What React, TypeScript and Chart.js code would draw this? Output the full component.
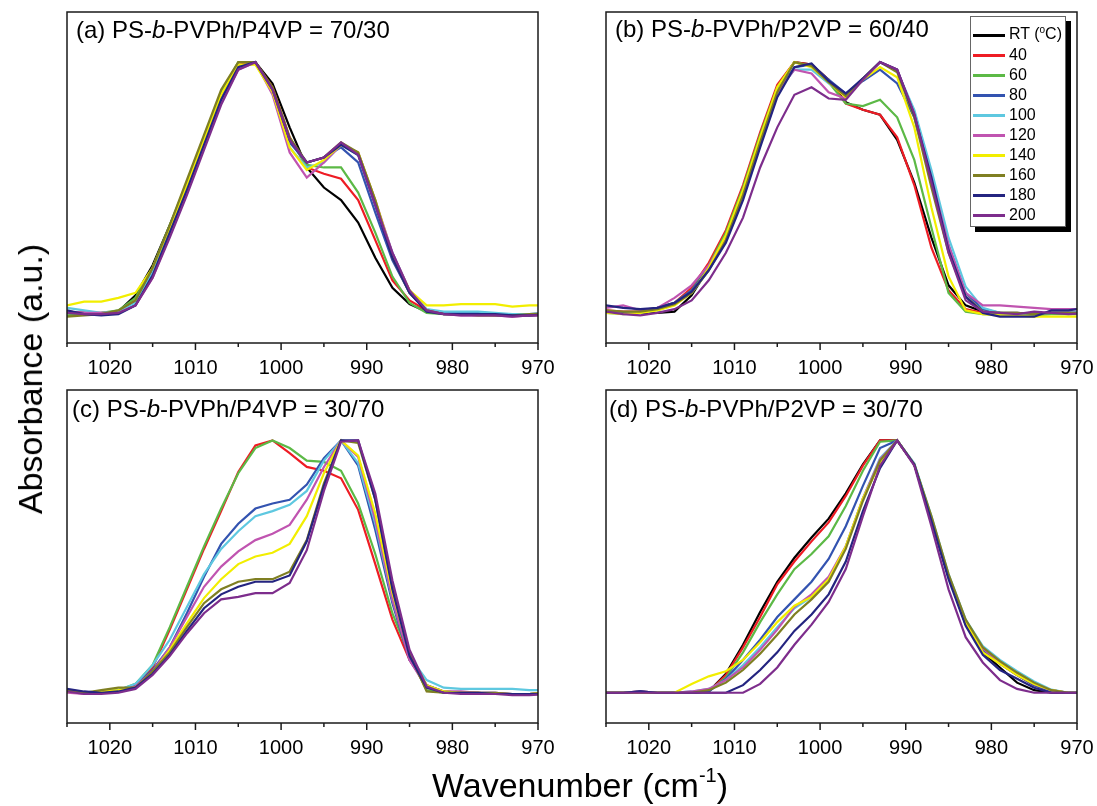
import React, { useEffect, useRef } from 'react';
import { Chart, registerables } from 'chart.js';

Chart.register(...registerables);

// ---------- data ----------
const WAVENUMBERS = [1025, 1023, 1021, 1019, 1017, 1015, 1013, 1011, 1009, 1007, 1005, 1003, 1001, 999, 997, 995, 993, 991, 989, 987, 985, 983, 981, 979, 977, 975, 973, 971, 969];
const SERIES_LABELS = ['RT', '40', '60', '80', '100', '120', '140', '160', '180', '200'];
const SERIES_COLORS = ['#000000', '#ee1c24', '#5cb946', '#3353b0', '#5ec8e0', '#c054b0', '#f2ee00', '#7f7f22', '#242480', '#7d2d8c'];
const X_MIN = 970;
const X_MAX = 1025;
const Y_MIN = -0.12;
const Y_MAX = 1.2;

// (a) PS-b-PVPh/P4VP = 70/30
const A_RT = [0.0, 0.0, -0.005, 0.005, 0.07, 0.19, 0.35, 0.51, 0.69, 0.87, 0.985, 1.0, 0.915, 0.74, 0.58, 0.5, 0.45, 0.36, 0.22, 0.1, 0.035, 0.005, 0.0, 0.0, 0.0, -0.005, -0.005, -0.005, 0.0];
const A_40 = [0.005, 0.0, 0.0, 0.005, 0.05, 0.17, 0.33, 0.5, 0.68, 0.86, 0.99, 1.0, 0.9, 0.7, 0.58, 0.555, 0.535, 0.45, 0.29, 0.13, 0.05, 0.01, 0.0, 0.0, 0.0, -0.005, -0.01, -0.01, -0.005];
const A_60 = [-0.01, -0.005, 0.0, 0.01, 0.06, 0.18, 0.35, 0.52, 0.7, 0.88, 1.0, 1.0, 0.89, 0.69, 0.59, 0.58, 0.58, 0.48, 0.32, 0.145, 0.04, 0.0, -0.005, -0.005, -0.005, -0.01, -0.01, -0.01, -0.005];
const A_80 = [0.0, 0.0, -0.005, 0.0, 0.04, 0.16, 0.32, 0.49, 0.67, 0.85, 0.98, 1.0, 0.89, 0.68, 0.6, 0.62, 0.66, 0.6, 0.4, 0.21, 0.08, 0.01, 0.0, 0.0, 0.0, -0.005, -0.01, -0.01, -0.005];
const A_100 = [0.02, 0.01, 0.0, 0.005, 0.04, 0.16, 0.32, 0.49, 0.67, 0.85, 0.98, 0.995, 0.88, 0.66, 0.58, 0.6, 0.67, 0.63, 0.44, 0.24, 0.09, 0.015, 0.005, 0.005, 0.005, 0.0, -0.005, -0.005, 0.0];
const A_120 = [0.005, 0.0, 0.0, 0.0, 0.03, 0.14, 0.31, 0.48, 0.66, 0.84, 0.97, 1.0, 0.87, 0.64, 0.54, 0.6, 0.67, 0.64, 0.45, 0.24, 0.09, 0.01, -0.005, -0.01, -0.01, -0.01, -0.015, -0.01, -0.01];
const A_140 = [0.03, 0.045, 0.045, 0.06, 0.08, 0.18, 0.34, 0.51, 0.69, 0.87, 0.99, 0.99, 0.88, 0.66, 0.57, 0.61, 0.67, 0.64, 0.45, 0.23, 0.09, 0.03, 0.03, 0.035, 0.035, 0.035, 0.025, 0.03, 0.03];
const A_160 = [-0.015, -0.01, -0.005, 0.01, 0.05, 0.18, 0.35, 0.53, 0.71, 0.89, 1.0, 1.0, 0.9, 0.7, 0.6, 0.62, 0.68, 0.64, 0.45, 0.22, 0.08, 0.01, -0.005, -0.005, -0.01, -0.01, -0.01, -0.005, -0.005];
const A_180 = [0.01, -0.005, -0.01, -0.005, 0.03, 0.15, 0.32, 0.49, 0.67, 0.85, 0.98, 1.0, 0.89, 0.69, 0.6, 0.62, 0.67, 0.63, 0.43, 0.22, 0.08, 0.005, -0.005, -0.005, -0.005, -0.005, -0.01, -0.01, -0.005];
const A_200 = [0.0, -0.005, -0.005, 0.0, 0.03, 0.14, 0.3, 0.47, 0.65, 0.83, 0.97, 1.0, 0.89, 0.69, 0.6, 0.62, 0.68, 0.63, 0.43, 0.24, 0.09, 0.01, -0.005, -0.01, -0.01, -0.01, -0.015, -0.01, -0.01];

// (b) PS-b-PVPh/P2VP = 60/40
const B_RT = [0.0, 0.0, 0.0, 0.0, 0.005, 0.07, 0.18, 0.31, 0.49, 0.7, 0.9, 1.0, 0.99, 0.93, 0.84, 0.81, 0.79, 0.69, 0.52, 0.3, 0.11, 0.03, 0.005, 0.0, 0.0, -0.005, 0.0, 0.0, 0.0];
const B_40 = [0.01, 0.005, 0.005, 0.015, 0.04, 0.1, 0.2, 0.33, 0.51, 0.72, 0.91, 1.0, 0.99, 0.93, 0.835, 0.81, 0.79, 0.7, 0.51, 0.26, 0.09, 0.015, 0.0, -0.005, -0.005, -0.005, 0.0, 0.0, 0.0];
const B_60 = [0.005, 0.0, 0.005, 0.02, 0.04, 0.09, 0.19, 0.32, 0.5, 0.71, 0.9, 1.0, 0.985, 0.92, 0.835, 0.825, 0.85, 0.78, 0.61, 0.34, 0.08, 0.005, -0.005, -0.005, -0.01, -0.01, -0.005, -0.005, -0.005];
const B_80 = [0.005, 0.0, 0.005, 0.02, 0.04, 0.09, 0.18, 0.3, 0.47, 0.68, 0.88, 0.98, 0.99, 0.93, 0.875, 0.925, 0.97, 0.915, 0.78, 0.53, 0.27, 0.08, 0.015, 0.0, -0.005, -0.005, 0.0, 0.0, 0.005];
const B_100 = [0.0, -0.005, 0.0, 0.01, 0.035, 0.08, 0.17, 0.29, 0.47, 0.68, 0.88, 0.97, 0.97, 0.915, 0.87, 0.935, 1.0, 0.965, 0.81, 0.57, 0.3, 0.105, 0.02, 0.0, -0.005, -0.005, 0.0, 0.0, 0.005];
const B_120 = [0.02, 0.03, 0.01, 0.02, 0.06, 0.11, 0.19, 0.3, 0.47, 0.68, 0.88, 0.97, 0.955, 0.88, 0.855, 0.935, 1.0, 0.97, 0.79, 0.54, 0.27, 0.08, 0.03, 0.03, 0.025, 0.02, 0.015, 0.015, 0.015];
const B_140 = [0.0, -0.005, 0.0, 0.01, 0.03, 0.08, 0.18, 0.31, 0.49, 0.7, 0.9, 1.0, 0.98, 0.92, 0.86, 0.93, 0.98, 0.94, 0.74, 0.42, 0.145, 0.01, -0.005, -0.01, -0.01, -0.015, -0.015, -0.015, -0.015];
const B_160 = [0.01, 0.005, 0.005, 0.015, 0.035, 0.08, 0.17, 0.29, 0.47, 0.68, 0.88, 1.0, 0.985, 0.92, 0.865, 0.935, 1.0, 0.96, 0.78, 0.5, 0.24, 0.065, 0.005, 0.0, 0.0, -0.005, 0.0, 0.0, 0.0];
const B_180 = [0.03, 0.02, 0.015, 0.02, 0.04, 0.085, 0.17, 0.28, 0.45, 0.66, 0.86, 0.98, 0.995, 0.925, 0.875, 0.935, 1.0, 0.97, 0.79, 0.54, 0.25, 0.065, 0.0, -0.015, -0.015, -0.015, 0.01, 0.01, 0.02];
const B_200 = [0.005, -0.005, -0.01, 0.0, 0.015, 0.05, 0.13, 0.24, 0.38, 0.58, 0.74, 0.87, 0.9, 0.855, 0.85, 0.93, 1.0, 0.97, 0.795, 0.52, 0.24, 0.05, 0.005, 0.0, -0.005, 0.005, 0.0, -0.005, 0.0];

// (c) PS-b-PVPh/P4VP = 30/70  (RT trace not shown)
const C_RT: number[] = [];
const C_40 = [0.005, 0.0, 0.0, 0.005, 0.03, 0.1, 0.25, 0.41, 0.57, 0.72, 0.875, 0.98, 1.0, 0.95, 0.895, 0.88, 0.85, 0.725, 0.51, 0.29, 0.13, 0.03, 0.005, 0.0, 0.0, -0.005, -0.005, -0.005, 0.0];
const C_60 = [0.005, 0.0, 0.005, 0.01, 0.035, 0.11, 0.26, 0.42, 0.58, 0.73, 0.87, 0.97, 1.0, 0.97, 0.92, 0.915, 0.88, 0.75, 0.55, 0.315, 0.145, 0.01, 0.0, 0.0, -0.005, -0.005, -0.005, -0.005, 0.0];
const C_80 = [0.01, 0.0, 0.0, 0.005, 0.03, 0.09, 0.18, 0.315, 0.46, 0.59, 0.67, 0.73, 0.75, 0.765, 0.825, 0.93, 1.0, 0.9, 0.645, 0.355, 0.13, 0.03, 0.005, 0.0, 0.0, 0.0, -0.005, -0.005, 0.0];
const C_100 = [0.005, 0.0, 0.0, 0.01, 0.035, 0.11, 0.21, 0.34, 0.47, 0.57, 0.64, 0.7, 0.72, 0.745, 0.8, 0.92, 1.0, 0.91, 0.67, 0.37, 0.145, 0.05, 0.02, 0.015, 0.015, 0.015, 0.015, 0.01, 0.01];
const C_120 = [0.0, -0.005, 0.0, 0.005, 0.025, 0.085, 0.18, 0.3, 0.42, 0.5, 0.56, 0.605, 0.63, 0.665, 0.765, 0.895, 1.0, 0.935, 0.685, 0.37, 0.13, 0.02, 0.005, 0.005, 0.0, 0.0, -0.005, -0.005, 0.0];
const C_140 = [0.005, 0.0, 0.005, 0.01, 0.02, 0.08, 0.17, 0.275, 0.375, 0.45, 0.51, 0.54, 0.555, 0.59, 0.7, 0.87, 1.0, 0.94, 0.71, 0.395, 0.155, 0.03, 0.005, 0.0, 0.0, -0.005, -0.005, -0.005, 0.0];
const C_160 = [0.01, 0.0, 0.01, 0.02, 0.02, 0.085, 0.16, 0.26, 0.355, 0.41, 0.44, 0.45, 0.45, 0.48, 0.605, 0.83, 1.0, 0.99, 0.765, 0.42, 0.155, 0.005, 0.0, 0.0, 0.0, 0.0, -0.005, -0.005, 0.0];
const C_180 = [0.015, 0.005, 0.0, 0.005, 0.02, 0.075, 0.15, 0.245, 0.335, 0.39, 0.42, 0.44, 0.44, 0.465, 0.6, 0.82, 1.0, 1.0, 0.765, 0.41, 0.145, 0.02, 0.0, 0.0, 0.0, -0.005, -0.005, -0.005, -0.005];
const C_200 = [0.005, -0.005, -0.005, 0.0, 0.015, 0.07, 0.145, 0.235, 0.315, 0.37, 0.38, 0.395, 0.395, 0.435, 0.565, 0.8, 0.995, 1.0, 0.79, 0.445, 0.17, 0.025, 0.0, -0.005, -0.005, -0.005, -0.01, -0.01, -0.005];

// (d) PS-b-PVPh/P2VP = 30/70
const D_RT = [0.0, 0.0, 0.0, 0.0, 0.0, 0.0, 0.005, 0.075, 0.19, 0.32, 0.44, 0.535, 0.615, 0.69, 0.79, 0.905, 1.0, 1.0, 0.905, 0.69, 0.46, 0.27, 0.16, 0.1, 0.04, 0.01, 0.0, 0.0, 0.0];
const D_40 = [0.0, 0.0, 0.005, 0.0, 0.0, 0.0, 0.005, 0.07, 0.18, 0.3, 0.43, 0.52, 0.6, 0.675, 0.78, 0.9, 1.0, 1.0, 0.905, 0.69, 0.46, 0.28, 0.175, 0.115, 0.07, 0.03, 0.005, 0.0, 0.0];
const D_60 = [0.0, 0.0, 0.0, 0.0, 0.0, 0.0, 0.005, 0.06, 0.16, 0.28, 0.39, 0.49, 0.55, 0.62, 0.74, 0.88, 0.995, 1.0, 0.905, 0.69, 0.46, 0.28, 0.175, 0.12, 0.075, 0.035, 0.01, 0.0, 0.0];
const D_80 = [0.0, 0.0, 0.005, 0.0, 0.0, 0.0, 0.005, 0.055, 0.13, 0.21, 0.3, 0.37, 0.44, 0.53, 0.66, 0.82, 0.97, 1.0, 0.905, 0.69, 0.46, 0.28, 0.17, 0.115, 0.07, 0.03, 0.005, 0.0, 0.0];
const D_100 = [0.0, 0.0, 0.0, 0.0, 0.0, 0.005, 0.015, 0.05, 0.11, 0.18, 0.26, 0.335, 0.38, 0.45, 0.58, 0.77, 0.93, 1.0, 0.91, 0.7, 0.47, 0.29, 0.185, 0.13, 0.085, 0.045, 0.012, 0.0, 0.0];
const D_120 = [0.0, 0.0, 0.0, 0.0, 0.0, 0.005, 0.015, 0.05, 0.1, 0.17, 0.25, 0.34, 0.39, 0.46, 0.58, 0.77, 0.925, 1.0, 0.905, 0.69, 0.46, 0.28, 0.175, 0.12, 0.075, 0.035, 0.01, 0.0, 0.0];
const D_140 = [0.0, 0.0, 0.0, 0.0, 0.0, 0.035, 0.065, 0.085, 0.13, 0.2, 0.28, 0.345, 0.38, 0.45, 0.58, 0.77, 0.91, 1.0, 0.905, 0.69, 0.46, 0.28, 0.16, 0.115, 0.07, 0.035, 0.01, 0.0, 0.0];
const D_160 = [0.0, 0.0, 0.0, 0.0, 0.0, 0.0, 0.01, 0.04, 0.09, 0.155, 0.23, 0.31, 0.37, 0.44, 0.57, 0.76, 0.92, 1.0, 0.905, 0.7, 0.47, 0.29, 0.18, 0.125, 0.08, 0.04, 0.01, 0.0, 0.0];
const D_180 = [0.0, 0.0, 0.005, 0.0, 0.0, 0.0, 0.0, 0.0, 0.03, 0.09, 0.16, 0.245, 0.31, 0.39, 0.52, 0.72, 0.89, 1.0, 0.905, 0.68, 0.45, 0.265, 0.15, 0.09, 0.055, 0.02, 0.0, 0.0, 0.0];
const D_200 = [0.0, 0.0, 0.0, 0.0, 0.0, 0.0, 0.0, 0.0, 0.0, 0.035, 0.1, 0.19, 0.27, 0.36, 0.49, 0.7, 0.9, 1.0, 0.9, 0.66, 0.41, 0.22, 0.12, 0.05, 0.015, 0.0, 0.0, 0.0, 0.0];

// ---------- layout ----------
const FONT = '"Liberation Sans", Arial, Helvetica, sans-serif';
const TITLE_SIZE = 24;

type Panel = {
  title: [string, string, string];
  series: number[][];
  left: number; top: number; right: number; bottom: number;
  titleX: number; titleBaseline: number;
};

const PANELS: Panel[] = [
  { title: ['(a) PS-', 'b', '-PVPh/P4VP = 70/30'], series: [A_RT, A_40, A_60, A_80, A_100, A_120, A_140, A_160, A_180, A_200], left: 67, top: 12, right: 538, bottom: 343, titleX: 76, titleBaseline: 38 },
  { title: ['(b) PS-', 'b', '-PVPh/P2VP = 60/40'], series: [B_RT, B_40, B_60, B_80, B_100, B_120, B_140, B_160, B_180, B_200], left: 606, top: 12, right: 1077, bottom: 343, titleX: 615, titleBaseline: 37 },
  { title: ['(c) PS-', 'b', '-PVPh/P4VP = 30/70'], series: [C_RT, C_40, C_60, C_80, C_100, C_120, C_140, C_160, C_180, C_200], left: 67, top: 390, right: 538, bottom: 723, titleX: 72, titleBaseline: 417 },
  { title: ['(d) PS-', 'b', '-PVPh/P2VP = 30/70'], series: [D_RT, D_40, D_60, D_80, D_100, D_120, D_140, D_160, D_180, D_200], left: 606, top: 390, right: 1077, bottom: 723, titleX: 609, titleBaseline: 417 },
];

const PAD_X = 30;
const PAD_TOP = 10;
const AXIS_H = 45;

const framePlugin = {
  id: 'frameTicks',
  afterDraw(chart: any) {
    const { ctx, chartArea: a } = chart;
    const x = chart.scales.x;
    ctx.save();
    ctx.strokeStyle = '#1a1a1a';
    ctx.lineWidth = 1.5;
    ctx.strokeRect(a.left, a.top, a.right - a.left, a.bottom - a.top);
    x.ticks.forEach((t: any) => {
      const px = x.getPixelForValue(t.value);
      const len = Math.round(t.value) % 10 === 0 ? 7 : 4;
      ctx.beginPath();
      ctx.moveTo(px, a.bottom);
      ctx.lineTo(px, a.bottom + len);
      ctx.stroke();
    });
    ctx.restore();
  },
};

function PanelChart({ p }: { p: Panel }) {
  const ref = useRef<HTMLCanvasElement>(null);
  const w = p.right - p.left;
  const h = p.bottom - p.top;
  const cw = w + PAD_X * 2;
  const ch = h + PAD_TOP + AXIS_H;

  useEffect(() => {
    const canvas = ref.current;
    if (!canvas) return;
    const datasets: any[] = [];
    p.series.forEach((vals, i) => {
      if (!vals.length) return;
      datasets.push({
        label: SERIES_LABELS[i],
        data: WAVENUMBERS.map((x, j) => ({ x, y: vals[j] })),
        borderColor: SERIES_COLORS[i],
        backgroundColor: SERIES_COLORS[i],
        borderWidth: 2.2,
        pointRadius: 0,
        tension: 0,
        fill: false,
        clip: 0,
        order: SERIES_LABELS.length - i,
      });
    });
    const chart = new Chart(canvas, {
      type: 'line',
      data: { datasets },
      options: {
        animation: false,
        responsive: false,
        maintainAspectRatio: false,
        devicePixelRatio: 1,
        layout: { padding: { left: PAD_X, right: PAD_X, top: PAD_TOP, bottom: 0 } },
        plugins: { legend: { display: false }, tooltip: { enabled: false } },
        scales: {
          x: {
            type: 'linear',
            min: X_MIN,
            max: X_MAX,
            reverse: true,
            grid: { display: false },
            border: { display: false },
            ticks: {
              stepSize: 5,
              autoSkip: false,
              maxRotation: 0,
              padding: 5,
              color: '#000',
              font: { family: FONT, size: 20 },
              callback: (v: any) => (Math.round(v) % 10 === 0 ? String(v) : ''),
            },
            afterFit: (s: any) => { s.height = AXIS_H; },
          },
          y: { display: false, min: Y_MIN, max: Y_MAX },
        },
      } as any,
      plugins: [framePlugin],
    });
    return () => chart.destroy();
  }, []);

  return (
    <>
      <canvas
        ref={ref}
        width={cw}
        height={ch}
        style={{ position: 'absolute', left: p.left - PAD_X, top: p.top - PAD_TOP, width: cw, height: ch }}
      />
      <div
        style={{
          position: 'absolute', left: p.titleX, top: p.titleBaseline - Math.round(0.8465 * TITLE_SIZE),
          fontFamily: FONT, fontSize: TITLE_SIZE, lineHeight: TITLE_SIZE + 'px', color: '#000', whiteSpace: 'nowrap',
        }}
      >
        {p.title[0]}<i>{p.title[1]}</i>{p.title[2]}
      </div>
    </>
  );
}

function Legend() {
  return (
    <div
      style={{
        position: 'absolute', left: 970, top: 16, width: 94, height: 209,
        border: '1px solid #666', background: '#fff', boxShadow: '5px 5px 0 #000',
        fontFamily: FONT, fontSize: 16, color: '#000',
      }}
    >
      <div style={{ paddingTop: 8 }}>
        {SERIES_LABELS.map((lab, i) => (
          <div key={lab} style={{ height: 20, display: 'flex', alignItems: 'center' }}>
            <span style={{ display: 'inline-block', width: 32, height: 3, marginLeft: 2, background: SERIES_COLORS[i] }} />
            <span style={{ marginLeft: 4, lineHeight: '20px', whiteSpace: 'nowrap' }}>
              {i === 0 ? (<>RT (<span style={{ fontSize: 10, position: 'relative', top: -6 }}>o</span>C)</>) : lab}
            </span>
          </div>
        ))}
      </div>
    </div>
  );
}

export default function App() {
  return (
    <div style={{ position: 'fixed', left: 0, top: 0, width: 1097, height: 806, background: '#fff', overflow: 'hidden' }}>
      {PANELS.map((p, i) => <PanelChart key={i} p={p} />)}
      <Legend />
      <div
        style={{
          position: 'absolute', left: 30, top: 379, transform: 'translate(-50%, -50%) rotate(-90deg)',
          fontFamily: FONT, fontSize: 34, lineHeight: '34px', whiteSpace: 'nowrap', color: '#000',
        }}
      >
        Absorbance (a.u.)
      </div>
      <div
        style={{
          position: 'absolute', left: 580, top: 768, transform: 'translateX(-50%)',
          fontFamily: FONT, fontSize: 34, lineHeight: '34px', whiteSpace: 'nowrap', color: '#000',
        }}
      >
        Wavenumber (cm<span style={{ fontSize: 20, position: 'relative', top: -15 }}>-1</span>)
      </div>
    </div>
  );
}
